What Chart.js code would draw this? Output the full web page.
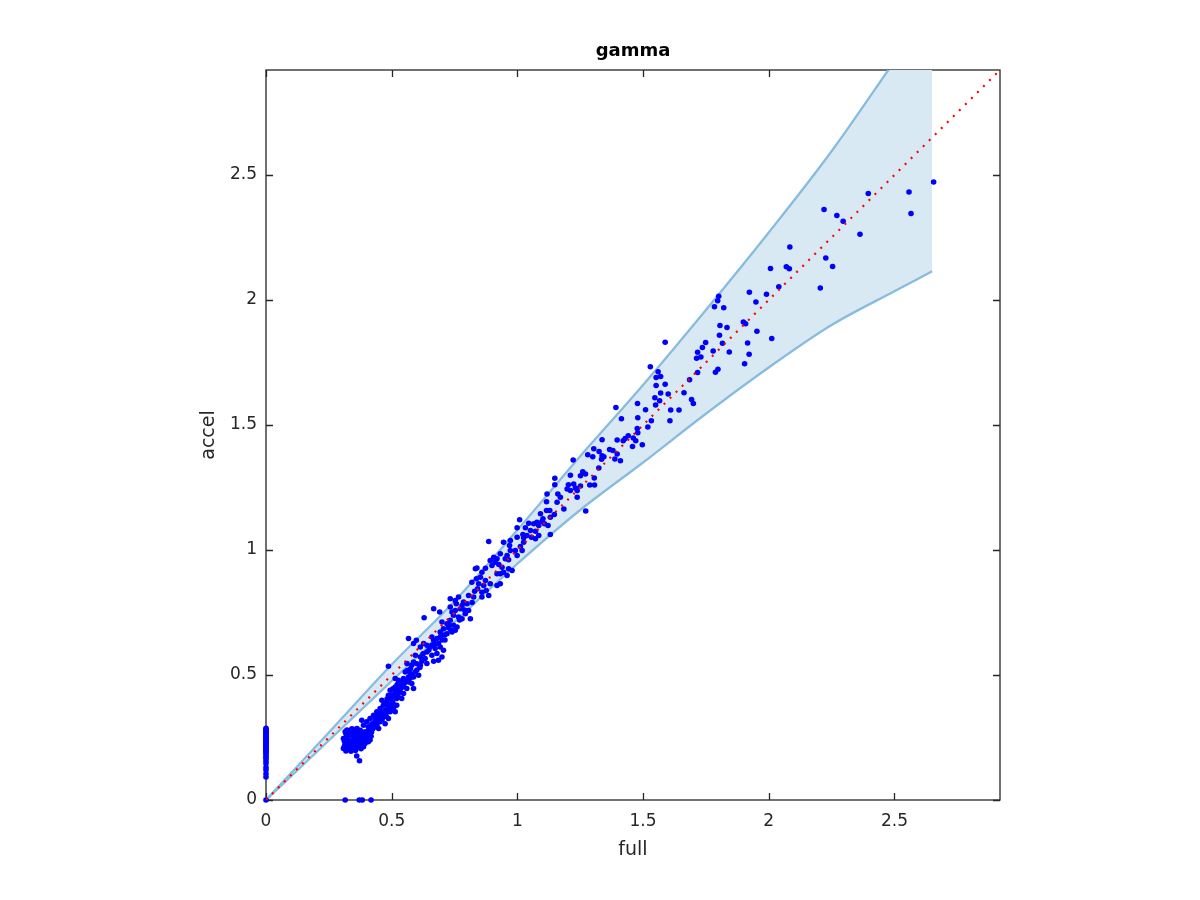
<!DOCTYPE html>
<html><head><meta charset="utf-8">
<script src="https://cdn.jsdelivr.net/npm/chart.js@4/dist/chart.umd.min.js"></script>
<style>html,body{margin:0;padding:0;background:#fff}#wrap{width:1200px;height:900px}</style>
</head><body><div id="wrap"><canvas id="c" width="1200" height="900"></canvas></div>
<script>
const xTicks = [0, 0.5, 1, 1.5, 2, 2.5];
const yTicks = [0, 0.5, 1, 1.5, 2, 2.5];
const axisMax = 2.92;
const refLine = [0, 2.92];

const bandFull  = [0, 0.25, 0.5, 0.75, 1.0, 1.25, 1.5, 1.75, 2.0, 2.25, 2.5, 2.65];
const bandUpper = [0, 0.27, 0.542, 0.795, 1.08, 1.375, 1.66, 1.96, 2.27, 2.595, 2.955, 3.17];
const bandLower = [0, 0.238, 0.476, 0.712, 0.945, 1.16, 1.35, 1.545, 1.73, 1.90, 2.035, 2.115];

// points where full = 0
const zeroFullAccel = [0, 0.092, 0.105, 0.12, 0.13, 0.145, 0.155, 0.165, 0.17, 0.178, 0.185, 0.19, 0.195, 0.199,
  0.203, 0.207, 0.211, 0.215, 0.219, 0.223, 0.227, 0.231, 0.235, 0.239, 0.243, 0.247, 0.251, 0.255,
  0.259, 0.263, 0.267, 0.271, 0.275, 0.279, 0.283, 0.287];
// points where accel = 0
const zeroAccelFull = [0.315, 0.371, 0.383, 0.418];

const clusterPts = [
 [0.315,0.273],[0.335,0.279],[0.355,0.282],[0.375,0.279],[0.394,0.273],[0.414,0.266],[0.321,0.259],[0.341,0.259],
 [0.361,0.263],[0.381,0.259],[0.401,0.253],[0.308,0.246],[0.328,0.240],[0.348,0.242],[0.368,0.240],[0.388,0.240],
 [0.407,0.233],[0.315,0.226],[0.335,0.220],[0.355,0.224],[0.375,0.220],[0.394,0.226],[0.308,0.206],[0.328,0.202],
 [0.348,0.206],[0.368,0.210],[0.388,0.213],[0.361,0.176],[0.372,0.157],[0.414,0.240],
 [0.318,0.265],[0.325,0.250],[0.332,0.268],[0.345,0.270],[0.352,0.252],[0.358,0.272],[0.365,0.256],[0.372,0.266],
 [0.378,0.248],[0.385,0.268],[0.392,0.258],[0.398,0.245],[0.405,0.262],[0.312,0.235],[0.322,0.230],[0.338,0.232],
 [0.345,0.215],[0.352,0.233],[0.362,0.228],[0.372,0.232],[0.380,0.228],[0.398,0.235],[0.312,0.215],[0.322,0.212],
 [0.340,0.210],[0.358,0.216],[0.378,0.205],[0.318,0.196],[0.338,0.195],[0.356,0.198],[0.322,0.280],[0.342,0.285],
 [0.362,0.286],[0.408,0.278],[0.420,0.272],[0.425,0.285],[0.418,0.255],
 [0.428,0.339],[0.448,0.339],[0.467,0.333],[0.487,0.326],[0.414,0.326],[0.434,0.319],[0.454,0.313],[0.474,0.305],
 [0.401,0.313],[0.421,0.305],[0.441,0.299],[0.388,0.299],[0.407,0.293],[0.428,0.290],[0.448,0.286],[0.381,0.319],
 [0.432,0.305],[0.438,0.328],[0.445,0.312],[0.452,0.328],[0.458,0.340],[0.462,0.322],[0.470,0.345],[0.478,0.335],
 [0.483,0.352],[0.460,0.350],
 [0.461,0.399],[0.481,0.392],[0.500,0.386],[0.520,0.379],[0.467,0.379],[0.487,0.372],[0.507,0.366],[0.454,0.366],
 [0.474,0.359],[0.494,0.353],[0.441,0.353],[0.514,0.353],
 [0.492,0.366],[0.498,0.372],[0.504,0.392],[0.510,0.380],[0.478,0.380],[0.472,0.390],[0.482,0.405],[0.495,0.405],
 [0.494,0.439],[0.514,0.432],[0.534,0.432],[0.547,0.426],[0.487,0.419],[0.507,0.412],[0.520,0.406],[0.540,0.406],
 [0.500,0.420],[0.512,0.422],[0.525,0.418],[0.530,0.445],[0.520,0.440],[0.505,0.445],[0.540,0.450],
 [0.514,0.486],[0.527,0.479],[0.534,0.466],[0.547,0.459],[0.567,0.472],[0.580,0.466],[0.560,0.446],[0.587,0.446],
 [0.514,0.452],[0.554,0.512],[0.574,0.506],[0.594,0.512],[0.567,0.492],[0.587,0.492],[0.607,0.499],[0.547,0.486],
 [0.552,0.470],[0.560,0.480],[0.540,0.472],[0.522,0.462],[0.573,0.487],[0.583,0.502],[0.600,0.520],[0.612,0.530],
 [0.600,0.545],[0.575,0.525],[0.562,0.518],
 [0.487,0.535]
];
const midPts = [
 [0.567,0.646],[0.598,0.639],[0.627,0.626],[0.660,0.652],[0.667,0.639],[0.680,0.646],[0.686,0.626],[0.653,0.612],
 [0.673,0.606],[0.693,0.612],[0.706,0.599],[0.640,0.592],[0.660,0.579],[0.680,0.586],[0.700,0.572],[0.614,0.572],
 [0.594,0.579],[0.633,0.566],[0.587,0.552],[0.561,0.546],[0.580,0.539],[0.614,0.539],[0.640,0.546],[0.667,0.555],
 [0.686,0.559],[0.587,0.626],[0.614,0.612],[0.640,0.619],[0.629,0.729],
 [0.620,0.555],[0.625,0.585],[0.648,0.600],[0.660,0.620],[0.672,0.625],[0.700,0.640],[0.695,0.655],[0.710,0.660],
 [0.712,0.640],[0.728,0.700],[0.735,0.680],[0.770,0.720],[0.790,0.760],[0.820,0.790],[0.830,0.835],
 [0.700,0.712],[0.720,0.705],[0.733,0.719],[0.706,0.685],[0.726,0.689],[0.746,0.699],[0.760,0.692],[0.693,0.672],
 [0.720,0.665],[0.740,0.672],[0.753,0.679],
 [0.667,0.765],[0.691,0.752],[0.733,0.772],[0.740,0.752],[0.753,0.758],[0.773,0.765],[0.746,0.739],[0.766,0.732],
 [0.806,0.758],[0.813,0.725],[0.780,0.725],[0.793,0.745],
 [0.733,0.805],[0.753,0.798],[0.766,0.812],[0.786,0.792],[0.800,0.785],[0.780,0.778],[0.757,0.785],
 [0.806,0.818],[0.826,0.812],[0.859,0.812],[0.886,0.818],
 [0.833,0.925],[0.859,0.911],[0.853,0.891],[0.837,0.885],[0.873,0.878],[0.892,0.865],[0.866,0.858],[0.846,0.865],
 [0.819,0.871],[0.842,0.845],[0.876,0.838],[0.859,0.831],[0.919,0.858],[0.932,0.865],
 [0.965,0.925],[0.979,0.918],[0.945,0.911],[0.932,0.905],[0.959,0.898],[0.919,0.905]
];
const upperMidPts = [
 [0.886,1.034],[0.945,1.031],[0.972,1.038],[0.969,1.018],[0.972,0.998],[1.012,1.014],[1.025,1.031],[1.019,0.998],
 [0.992,0.998],[0.999,0.978],[0.959,0.978],[0.952,0.965],[0.965,0.961],[0.932,0.985],[0.906,0.971],[0.919,0.965],
 [0.892,0.958],[0.912,0.951],[0.926,0.942],[0.939,0.931],[0.873,0.927],[0.899,0.938],[0.839,0.928],
 [1.009,1.121],[1.045,1.107],[1.065,1.105],[1.078,1.111],[1.085,1.098],[1.098,1.114],[1.108,1.105],[1.032,1.089],
 [1.052,1.078],[1.072,1.075],[1.122,1.098],[1.131,1.062],[0.999,1.089],[1.022,1.062],[1.038,1.058],[1.025,1.049],
 [1.056,1.051],[1.072,1.045],[1.085,1.058],[0.999,1.051],
 [1.118,1.224],[1.161,1.224],[1.171,1.211],[1.158,1.191],[1.238,1.211],[1.116,1.193],[1.129,1.158],[1.116,1.158],
 [1.185,1.164],[1.272,1.156],[1.092,1.145],[1.102,1.125],[1.131,1.131],[1.147,1.142],
 [1.149,1.287],[1.149,1.261],[1.224,1.264],[1.231,1.248],[1.211,1.238],[1.238,1.238],[1.251,1.256],[1.198,1.244],
 [1.203,1.261],[1.288,1.260],[1.307,1.260],[1.306,1.288],[1.211,1.299],[1.260,1.313],[1.271,1.304],[1.251,1.297],
 [1.324,1.328]
];
const highPts = [
 [1.607,1.517],[1.478,1.586],[1.392,1.570],[1.414,1.525],[1.479,1.529],[1.533,1.517],[1.519,1.492],[1.477,1.486],
 [1.479,1.469],[1.441,1.457],[1.429,1.446],[1.461,1.448],[1.421,1.437],[1.471,1.437],[1.397,1.440],[1.337,1.441],
 [1.458,1.414],[1.497,1.421],[1.304,1.405],[1.367,1.402],[1.380,1.398],[1.325,1.394],[1.280,1.381],[1.337,1.377],
 [1.344,1.373],[1.397,1.384],[1.300,1.373],[1.222,1.360],[1.335,1.363],[1.388,1.364],[1.410,1.357]
];
const topPts = [
 [2.656,2.472],[2.558,2.432],[2.566,2.346],[2.396,2.426],[2.220,2.362],[2.271,2.338],[2.296,2.315],[2.363,2.263],
 [2.084,2.212],[2.227,2.168],[2.254,2.134],[2.007,2.126],[2.070,2.133],[2.082,2.125],[2.205,2.048],[2.040,2.053],
 [1.923,2.031],[1.991,2.023],[1.949,1.992],[1.801,2.015],[1.797,1.997],[1.784,1.973],[1.821,1.969],[1.806,1.898],
 [1.834,1.890],[1.899,1.912],[1.908,1.905],[1.953,1.875],[2.012,1.846],[1.804,1.859],[1.749,1.830],[1.736,1.810],
 [1.816,1.827],[1.916,1.828],[1.843,1.792],[1.922,1.783],[1.779,1.796],[1.717,1.791],[1.730,1.772],[1.713,1.767],
 [1.904,1.745],[1.798,1.723],[1.788,1.711],[1.717,1.710],[1.685,1.681],[1.588,1.831],[1.529,1.733],[1.560,1.713],
 [1.552,1.690],[1.570,1.694],[1.588,1.663],[1.552,1.658],[1.570,1.628],[1.600,1.624],[1.663,1.629],[1.547,1.609],
 [1.566,1.597],[1.693,1.602],[1.700,1.586],[1.550,1.580],[1.510,1.561],[1.610,1.560],[1.643,1.560]
];

const FONT = "'DejaVu Sans', sans-serif";
const toXY = p => ({x: p[0], y: p[1]});
const scatterData = []
  .concat(zeroFullAccel.map(v => ({x: 0, y: v})))
  .concat(zeroAccelFull.map(v => ({x: v, y: 0})))
  .concat(clusterPts.map(toXY), midPts.map(toXY), upperMidPts.map(toXY), highPts.map(toXY), topPts.map(toXY));

const boxPlugin = {
  id: 'box',
  beforeDatasetsDraw(chart) {
    const {ctx, chartArea: a, scales: {x, y}} = chart;
    ctx.save();
    ctx.strokeStyle = '#262626';
    ctx.lineWidth = 1.3;
    ctx.strokeRect(a.left, a.top, a.right - a.left, a.bottom - a.top);
    const L = 7;
    ctx.beginPath();
    x.ticks.forEach(t => {
      const px = Math.round(x.getPixelForValue(t.value)) + 0.5;
      ctx.moveTo(px, a.bottom); ctx.lineTo(px, a.bottom - L);
      ctx.moveTo(px, a.top); ctx.lineTo(px, a.top + L);
    });
    y.ticks.forEach(t => {
      const py = Math.round(y.getPixelForValue(t.value)) + 0.5;
      ctx.moveTo(a.left, py); ctx.lineTo(a.left + L, py);
      ctx.moveTo(a.right, py); ctx.lineTo(a.right - L, py);
    });
    ctx.stroke();
    ctx.restore();
  }
};

new Chart(document.getElementById('c'), {
  data: {
    datasets: [
      {type: 'line', label: 'upper', data: bandFull.map((v, i) => ({x: v, y: bandUpper[i]})),
       borderColor: '#88bcde', borderWidth: 2.3, pointRadius: 0, fill: '+1', backgroundColor: '#d9e9f4',
       order: 4, clip: 0, cubicInterpolationMode: 'monotone'},
      {type: 'line', label: 'lower', data: bandFull.map((v, i) => ({x: v, y: bandLower[i]})),
       borderColor: '#88bcde', borderWidth: 2.3, pointRadius: 0, fill: false, order: 3, clip: 0,
       cubicInterpolationMode: 'monotone'},
      {type: 'scatter', label: 'points', data: scatterData, pointRadius: 2.8, pointBackgroundColor: '#0000ff',
       pointBorderWidth: 0, backgroundColor: '#0000ff', borderColor: '#0000ff', order: 2, clip: false},
      {type: 'line', label: 'ref', data: refLine.map(v => ({x: v, y: v})), borderColor: '#ff0000',
       borderWidth: 2.2, borderDash: [2, 6.5], pointRadius: 0, fill: false, order: 1, clip: 0}
    ]
  },
  options: {
    responsive: false, animation: false, devicePixelRatio: 1,
    layout: {padding: {left: 0, right: 200, top: 0, bottom: 0}},
    plugins: {
      legend: {display: false}, tooltip: {enabled: false},
      title: {display: true, text: 'gamma', fullSize: false, color: '#000',
        font: {family: FONT, size: 18, weight: 'bold', lineHeight: 1.2}, padding: {top: 41, bottom: 7.4}}
    },
    scales: {
      x: {type: 'linear', min: 0, max: axisMax,
        afterBuildTicks: s => { s.ticks = xTicks.map(v => ({value: v})); },
        afterFit: s => { s.height = 100; },
        grid: {display: false, drawTicks: false}, border: {display: false},
        ticks: {padding: 11, color: '#262626', font: {family: FONT, size: 17}, maxRotation: 0, callback: v => String(v)},
        title: {display: true, text: 'full', color: '#262626', font: {family: FONT, size: 19, lineHeight: 1.2},
          padding: {top: 0, bottom: 39}}
      },
      y: {type: 'linear', min: 0, max: axisMax,
        afterBuildTicks: s => { s.ticks = yTicks.map(v => ({value: v})); },
        afterFit: s => { s.width = 266; },
        grid: {display: false, drawTicks: false}, border: {display: false},
        ticks: {padding: 9, color: '#262626', font: {family: FONT, size: 17}, callback: v => String(v)},
        title: {display: true, text: 'accel', color: '#262626', font: {family: FONT, size: 19, lineHeight: 1.2},
          padding: {top: 198, bottom: 0}}
      }
    }
  },
  plugins: [boxPlugin]
});
</script></body></html>
